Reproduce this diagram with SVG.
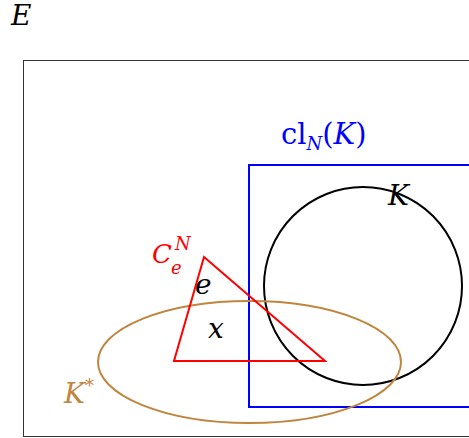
<svg xmlns="http://www.w3.org/2000/svg" width="469" height="438" viewBox="0 0 469 438">
<style>
text{font-family:"DejaVu Serif","Liberation Serif",serif;font-size:28px}
.i{font-style:italic}
.s{font-size:18px}
.c{font-size:26px;fill:#ff0000}
.cs{font-size:18px;fill:#ff0000}
</style>
<rect width="469" height="438" fill="#fff"/>
<g id="E"><rect x="23.5" y="60.5" width="460" height="376" fill="none" stroke="#333" stroke-width="1"/><text class="i" x="11" y="25">E</text></g>
<g id="clNK"><rect x="249" y="165" width="240" height="242" fill="none" stroke="#0000ff" stroke-width="2"/><text x="281" y="144" fill="#0000ff" style="font-size:29px">cl<tspan class="i s" dy="6">N</tspan><tspan dy="-6">(</tspan><tspan class="i">K</tspan>)</text></g>
<g id="K"><circle cx="363" cy="286" r="99" fill="none" stroke="#000" stroke-width="2"/><text class="i" x="388" y="205">K</text></g>
<g id="Kstar"><ellipse cx="249.5" cy="362" rx="151.5" ry="61" fill="none" stroke="#c0853f" stroke-width="2"/><text class="i" x="64" y="403" fill="#c0853f">K<tspan class="s" font-style="normal" dy="-11">*</tspan></text></g>
<g id="CeN"><polygon points="204,257 174,361 325,361" fill="none" stroke="#ff0000" stroke-width="2"/><text class="i c" x="152" y="263">C</text><text class="i cs" x="171" y="274">e</text><text class="i cs" x="175" y="250">N</text><text class="i" x="195" y="294">e</text><text class="i" x="208" y="338">x</text></g>
</svg>
